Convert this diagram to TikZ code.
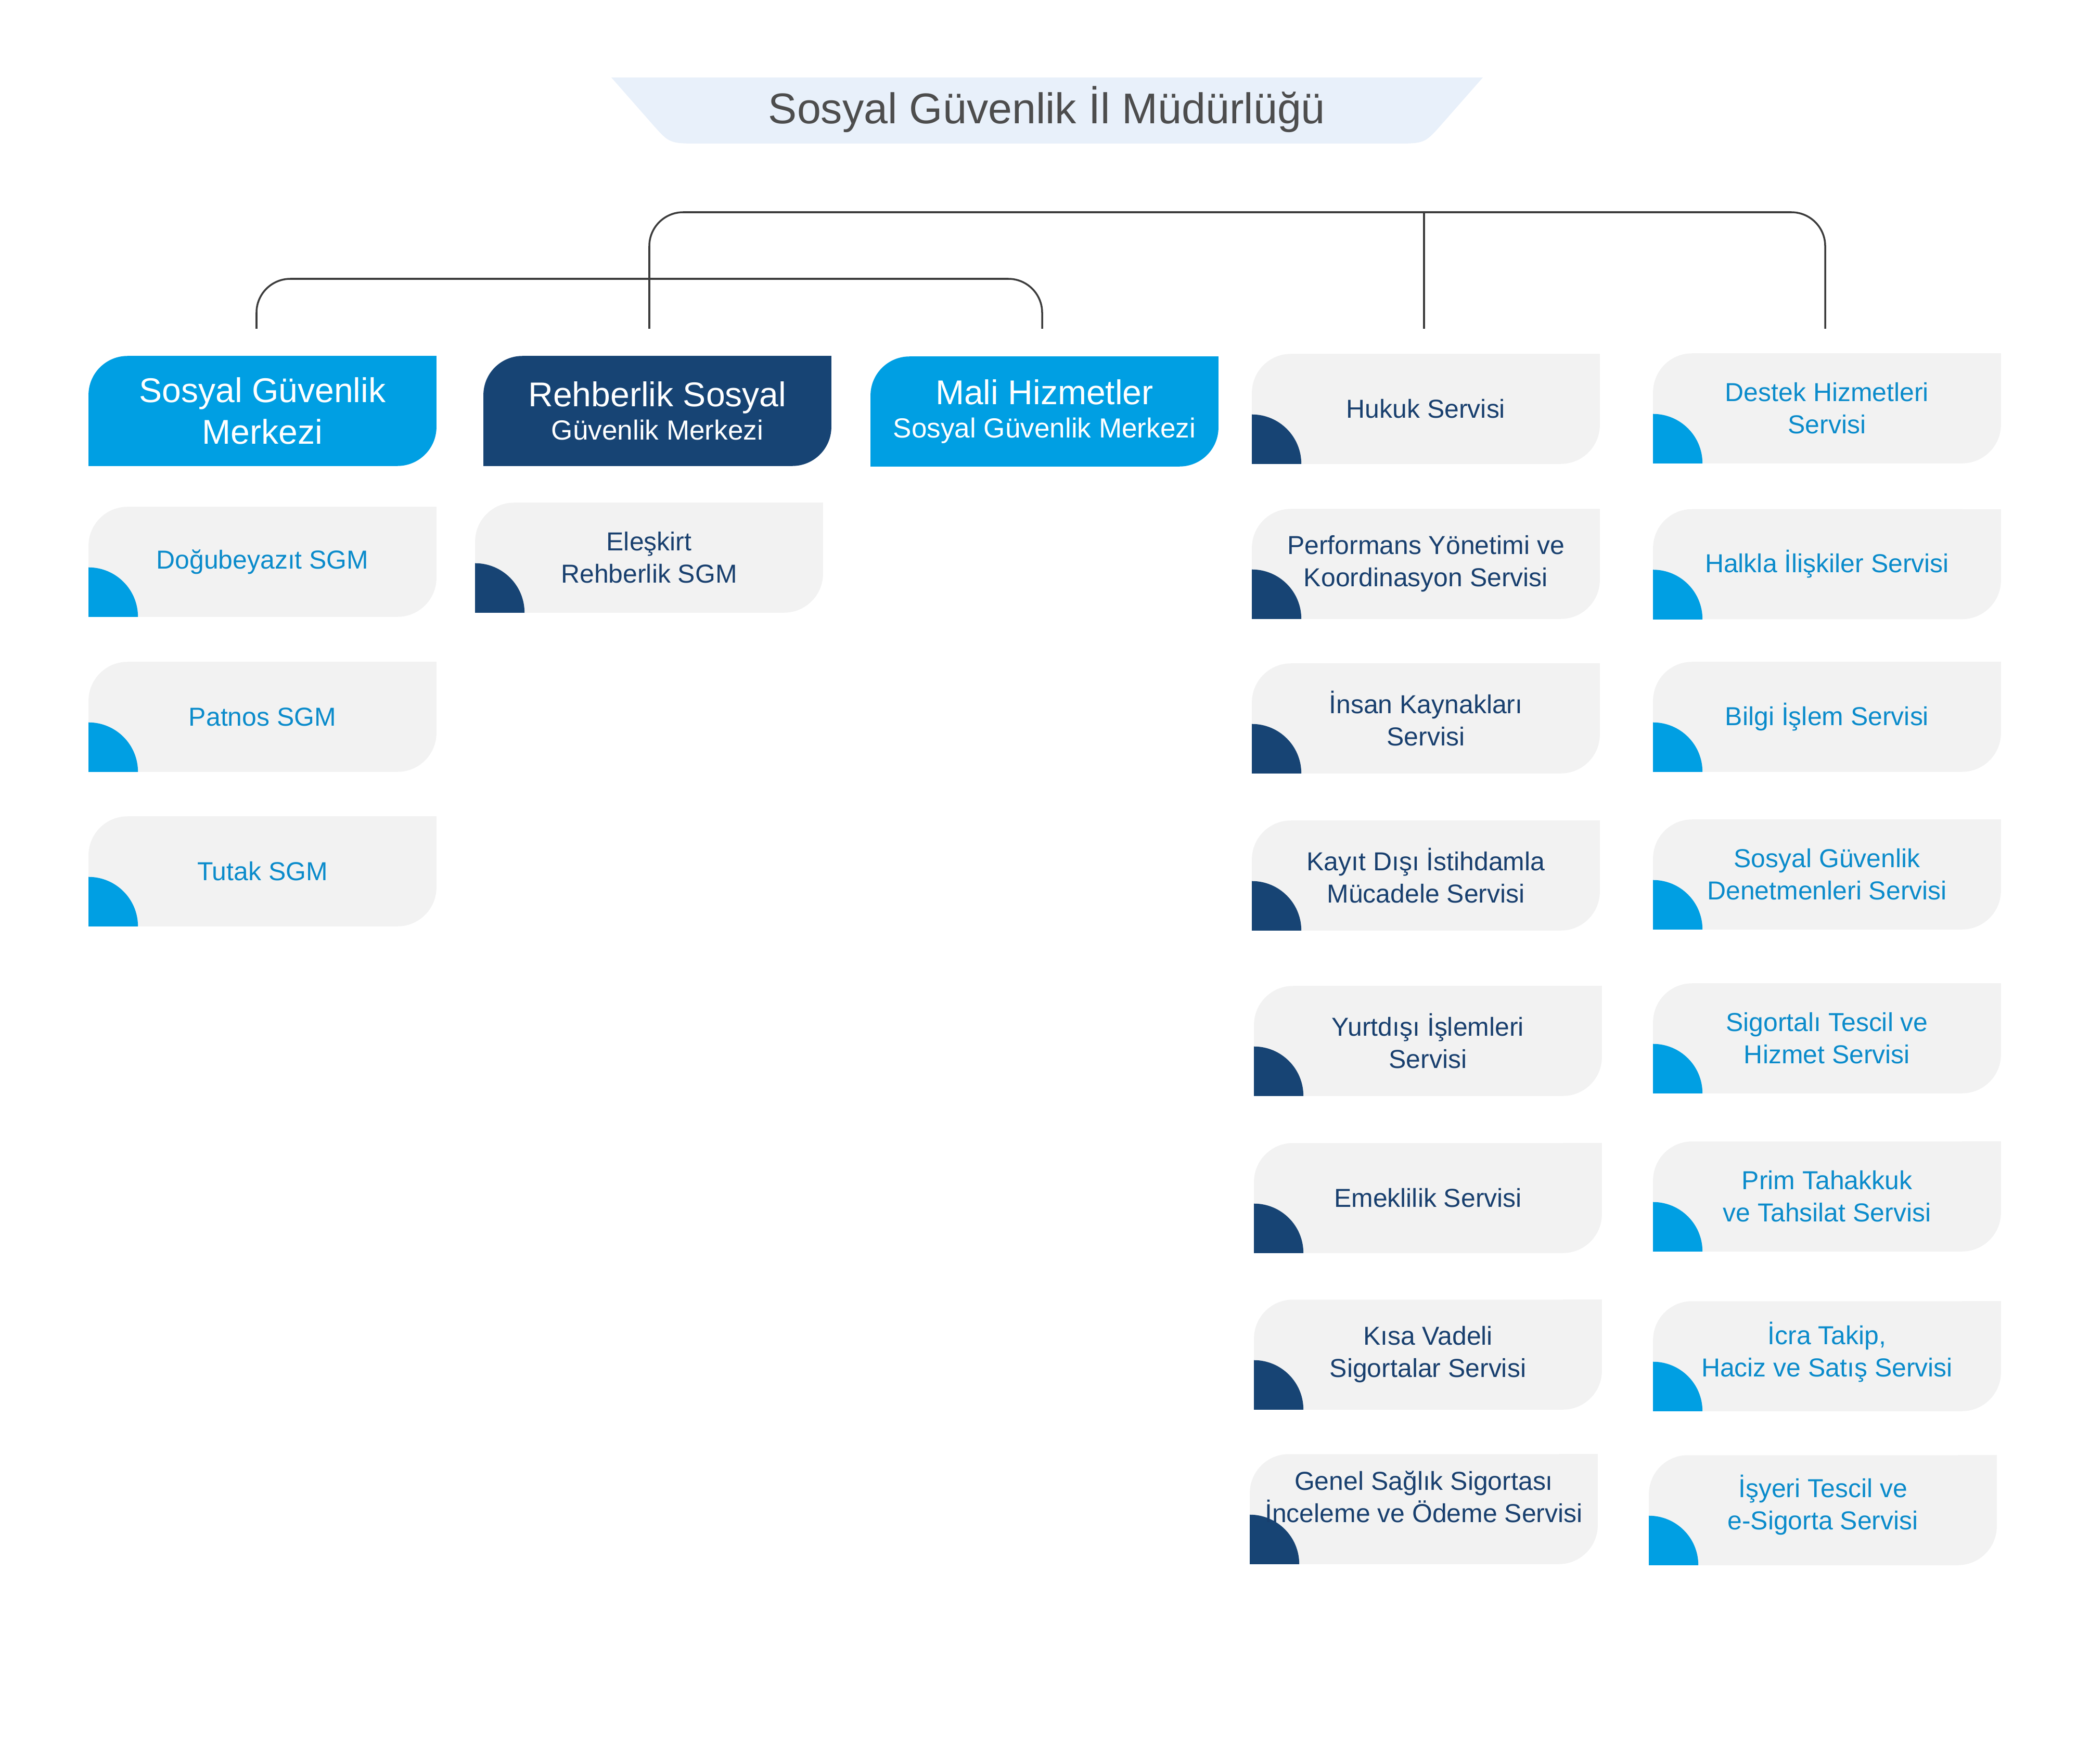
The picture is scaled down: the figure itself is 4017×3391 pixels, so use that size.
\documentclass[tikz,border=0pt]{standalone}
\usepackage{fontspec}
\setmainfont{Liberation Sans}
\usepackage{xcolor}
\usepackage{tikz}
\usetikzlibrary{calc,backgrounds}
\definecolor{titlebg}{HTML}{E8F0FA}
\definecolor{titletext}{HTML}{4D4D4D}
\definecolor{sky}{HTML}{009FE3}
\definecolor{navy}{HTML}{174474}
\definecolor{skytext}{HTML}{0A8BCB}
\definecolor{navytext}{HTML}{183F6E}
\definecolor{cardbg}{HTML}{F2F2F2}
\definecolor{linegray}{HTML}{3C3C3C}
\newcommand\hsub[1]{{\fontsize{15.1}{18.2}\selectfont #1}}
\tikzset{
  link/.style={draw=linegray, line width=1pt, rounded corners=0.65cm},
  box/.style={minimum width=6.67cm, minimum height=2.1cm, inner sep=0pt, align=center},
  hdr/.style={box, text=white, font=\fontsize{18.8}{22.8}\selectfont},
  hdrtwo/.style={hdr, font=\fontsize{18.8}{18.2}\selectfont},
  svc/.style={box, font=\fontsize{14.2}{17.6}\selectfont},
  svcsky/.style={svc, text=skytext},
  svcnavy/.style={svc, text=navytext},
  flat/.style={},
  upa/.style={text depth=0.26cm},
  upb/.style={text depth=0.3cm},
  upc/.style={text depth=0.48cm},
  titlelab/.style={text=titletext, font=\fontsize{23.5}{28}\selectfont},
}
\begin{document}
\begin{tikzpicture}[x=0.01cm, y=-0.01cm]
  \useasboundingbox (0,0) rectangle (4017,3391);

  \fill[titlebg] (2012,149) -- (1175,149) -- (1255,240) .. controls (1287,276) .. (1347,276)
    -- (2678,276) .. controls (2738,276) .. (2770,240) -- (2850,149) -- cycle;
  \node[titlelab] (top) at (2012,210) {Sosyal Güvenlik İl Müdürlüğü};

  \node[hdr] (sgm) at (504.5,790) {Sosyal Güvenlik\\Merkezi};
  \node[hdrtwo] (rsgm) at (1263.5,790) {Rehberlik Sosyal\\\hsub{Güvenlik Merkezi}};
  \node[hdrtwo] (mali) at (2007.5,791) {Mali Hizmetler\\\hsub{Sosyal Güvenlik Merkezi}};

  \foreach \i/\y/\t in {1/1080/{Doğubeyazıt SGM}, 2/1378/{Patnos SGM}, 3/1675/{Tutak SGM}}
    \node[svcsky] (sgm\i) at (504.5,\y) {\t};
  \node[svcnavy] (rsgm1) at (1247.5,1072) {Eleşkirt\\Rehberlik SGM};

  \foreach \i/\x/\y/\opt/\t in {
    1/2740.5/786/flat/{Hukuk Servisi},
    2/2740.5/1084/flat/{Performans Yönetimi ve\\Koordinasyon Servisi},
    3/2740.5/1381/flat/{İnsan Kaynakları\\Servisi},
    4/2740.5/1683/flat/{Kayıt Dışı İstihdamla\\Mücadele Servisi},
    5/2744.5/2001/flat/{Yurtdışı İşlemleri\\Servisi},
    6/2744.5/2303/flat/{Emeklilik Servisi},
    7/2744.5/2604/flat/{Kısa Vadeli\\Sigortalar Servisi},
    8/2736.5/2901/upc/{Genel Sağlık Sigortası\\İnceleme ve Ödeme Servisi}}
    \node[svcnavy,\opt] (svc\i) at (\x,\y) {\t};

  \foreach \i/\x/\y/\opt/\t in {
    1/3511.5/785/flat/{Destek Hizmetleri\\Servisi},
    2/3511.5/1084.5/flat/{Halkla İlişkiler Servisi},
    3/3511.5/1378/flat/{Bilgi İşlem Servisi},
    4/3511.5/1681/flat/{Sosyal Güvenlik\\Denetmenleri Servisi},
    5/3511.5/1996/flat/{Sigortalı Tescil ve\\Hizmet Servisi},
    6/3511.5/2300/flat/{Prim Tahakkuk\\ve Tahsilat Servisi},
    7/3511.5/2607/upa/{İcra Takip,\\Haciz ve Satış Servisi},
    8/3503.5/2903/upb/{İşyeri Tescil ve\\e-Sigorta Servisi}}
    \node[svcsky,\opt] (dst\i) at (\x,\y) {\t};

  % card shapes
  \begin{scope}[on background layer]
    \foreach \n/\c in {sgm/sky, rsgm/navy, mali/sky} {
      \fill[\c, rounded corners=0.75cm] (\n.south west) rectangle (\n.north east);
      \fill[\c] (\n.north east) rectangle ++(-75,75);
      \fill[\c] (\n.south west) rectangle ++(75,-75);
    }
    \foreach \c/\l in {sky/{sgm1,sgm2,sgm3,dst1,dst2,dst3,dst4,dst5,dst6,dst7,dst8},
                       navy/{rsgm1,svc1,svc2,svc3,svc4,svc5,svc6,svc7,svc8}}
      \foreach \n in \l {
        \fill[cardbg, rounded corners=0.75cm] (\n.south west) rectangle (\n.north east);
        \fill[cardbg] (\n.north east) rectangle ++(-75,75);
        \begin{scope}
          \clip (\n.south west) rectangle ++(95,-95);
          \fill[\c] (\n.south west) circle[radius=0.95cm];
        \end{scope}
      }
  \end{scope}

  % connectors
  \coordinate (bar1) at (0,408);
  \coordinate (bar2) at (0,536);
  \coordinate (tips) at (0,632);
  \coordinate (sgmin) at ([xshift=-0.115cm]sgm.north);
  \coordinate (rsgmin) at ([xshift=-0.155cm]rsgm.north);
  \coordinate (maliin) at ([xshift=-0.045cm]mali.north);
  \coordinate (svcin) at ([xshift=-0.035cm]svc1.north);
  \coordinate (dstin) at ([xshift=-0.035cm]dst1.north);

  \draw[link] (rsgmin |- tips) -- (rsgmin |- bar1) -- (dstin |- bar1) -- (dstin |- tips);
  \draw[link] (svcin |- bar1) -- (svcin |- tips);
  \draw[link] (sgmin |- tips) -- (sgmin |- bar2) -- (maliin |- bar2) -- (maliin |- tips);
\end{tikzpicture}
\end{document}
